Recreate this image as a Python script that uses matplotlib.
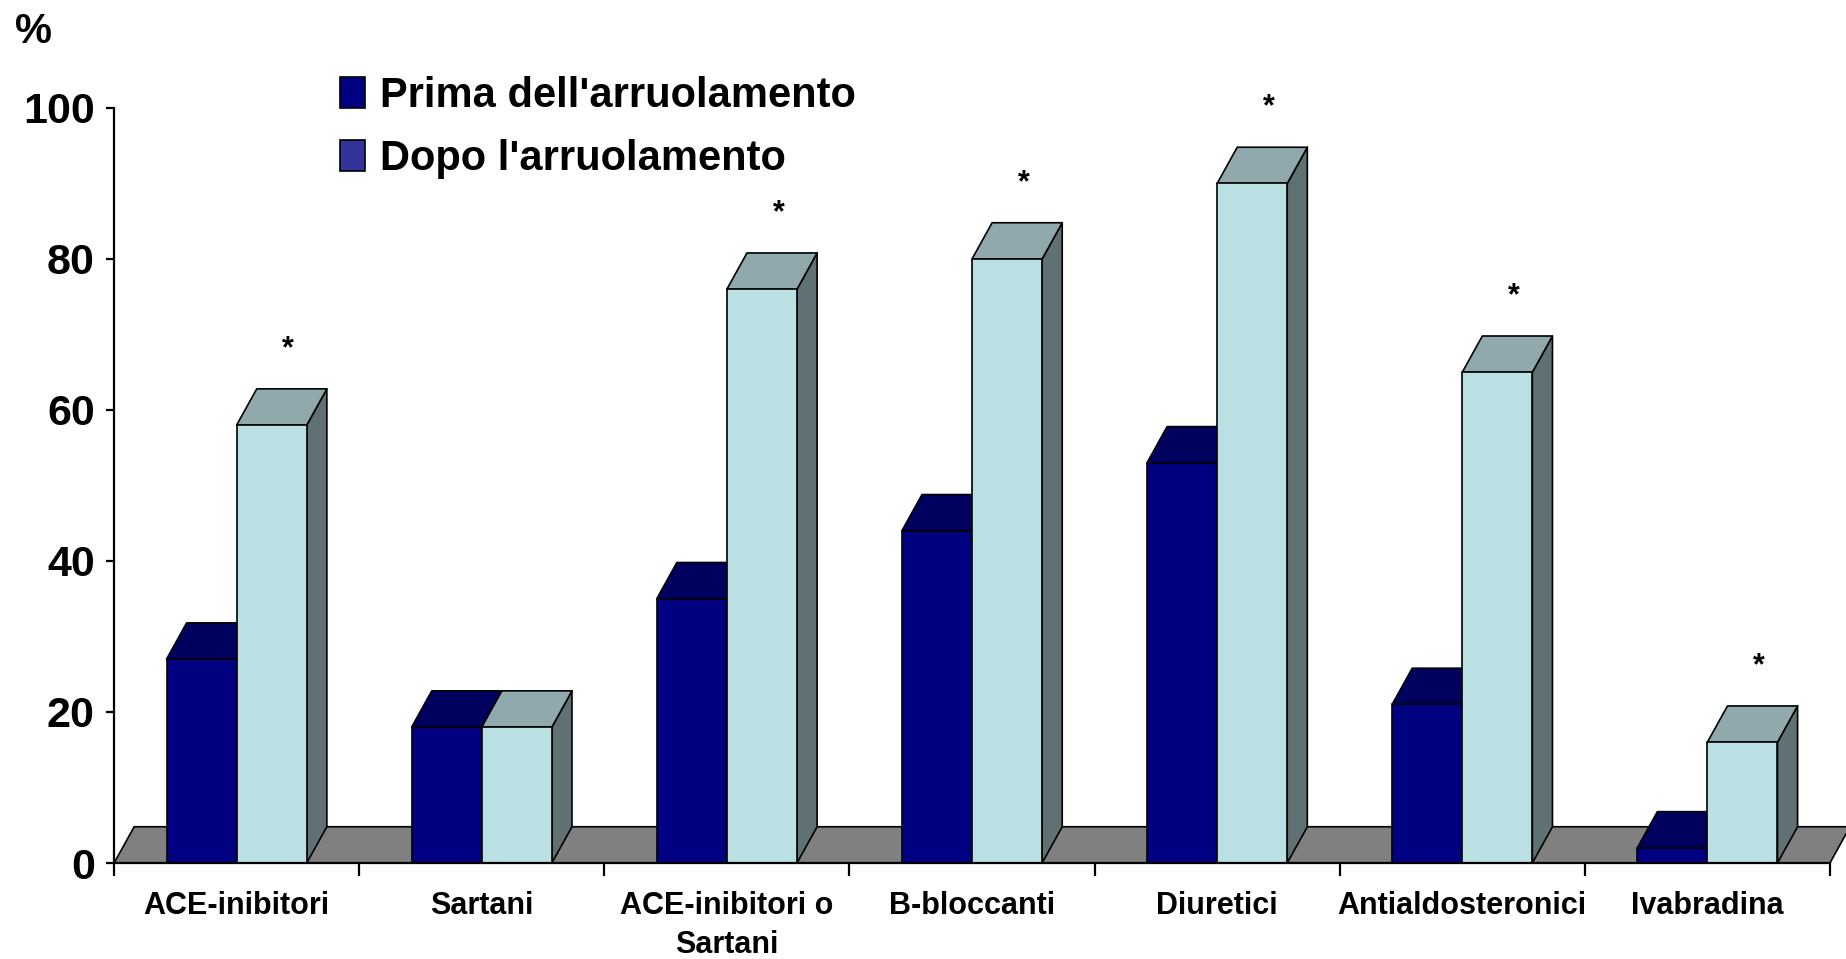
import numpy as np
import matplotlib.pyplot as plt
from matplotlib.patches import Polygon, Patch

plt.rcParams['font.family'] = ['Liberation Sans', 'DejaVu Sans']
plt.rcParams['font.weight'] = 'bold'

# dati: percentuale di pazienti in terapia
categorie = ["ACE-inibitori", "Sartani", "ACE-inibitori o\nSartani", "B-bloccanti",
             "Diuretici", "Antialdosteronici", "Ivabradina"]
prima = [27, 18, 35, 44, 53, 21, 2]
dopo = [58, 18, 76, 80, 90, 65, 16]
significativo = [True, False, True, True, True, True, True]

# colori delle facce (fronte, cima, lato)
col_prima = ("#000080", "#00005E", "#000050")
col_dopo = ("#BBE0E3", "#8FA9AC", "#5F7173")
col_pavimento = "#808080"

w = 0.286    # larghezza barra in unita' di categoria
dx = 0.082   # profondita' prospettica orizzontale
dy = 4.8     # profondita' prospettica verticale (in %)


def barra_3d(ax, x0, h, colori):
    fronte, cima, lato = colori
    kw = dict(edgecolor="black", linewidth=1.2, clip_on=False, joinstyle="round")
    ax.add_patch(Polygon([(x0 + w, 0), (x0 + w + dx, dy), (x0 + w + dx, h + dy), (x0 + w, h)],
                         facecolor=lato, **kw))
    ax.add_patch(Polygon([(x0, h), (x0 + dx, h + dy), (x0 + w + dx, h + dy), (x0 + w, h)],
                         facecolor=cima, **kw))
    ax.add_patch(Polygon([(x0, 0), (x0, h), (x0 + w, h), (x0 + w, 0)],
                         facecolor=fronte, **kw))


fig = plt.figure(figsize=(18.46, 9.59), dpi=100)
ax = fig.add_axes([0.0618, 0.1001, 0.9295, 0.7873])

n = len(categorie)
ax.set_xlim(0, n)
ax.set_ylim(0, 100)

# pavimento grigio
ax.add_patch(Polygon([(0, 0), (dx, dy), (n + dx, dy), (n, 0)], facecolor=col_pavimento,
                     edgecolor="black", linewidth=1.2, clip_on=False))

for i in range(n):
    c = i + 0.5
    barra_3d(ax, c - w, prima[i], col_prima)
    barra_3d(ax, c, dopo[i], col_dopo)
    if significativo[i]:
        ax.text(c + w / 2 + 0.067, dopo[i] + 9.0, "*", fontsize=22, fontweight="bold",
                ha="center", va="baseline", clip_on=False)

# assi
for s in ["top", "right"]:
    ax.spines[s].set_visible(False)
ax.spines["left"].set_linewidth(1.6)
ax.spines["bottom"].set_linewidth(1.6)
ax.spines["left"].set_zorder(0.5)

ax.set_yticks(np.arange(0, 101, 20))
ax.tick_params(axis="y", length=6, width=1.6, pad=8, labelsize=31)
ax.set_xticks(np.arange(0, n + 1))
ax.set_xticklabels([])
ax.tick_params(axis="x", which="major", length=9, width=1.6)
ax.set_xticks(np.arange(n) + 0.5, minor=True)
ax.set_xticklabels(categorie, minor=True, fontsize=22, fontweight="bold", linespacing=1.4)
ax.tick_params(axis="x", which="minor", length=0, pad=20)

fig.text(33 / 1846, 1 - 32 / 959, "%", fontsize=30, fontweight="bold", ha="center", va="center")

maniglie = [Patch(facecolor="#000080", edgecolor="black", linewidth=1.2),
            Patch(facecolor="#333399", edgecolor="black", linewidth=1.2)]
ax.legend(maniglie, ["Prima dell'arruolamento", "Dopo l'arruolamento"],
          loc="upper left", bbox_to_anchor=(340 / 1846, 1 - 76 / 959),
          bbox_transform=fig.transFigure, frameon=False, fontsize=30,
          handlelength=0.6, handleheight=0.75, handletextpad=0.35,
          labelspacing=0.55, borderpad=0, borderaxespad=0)

fig.savefig("out.png", dpi=100)
